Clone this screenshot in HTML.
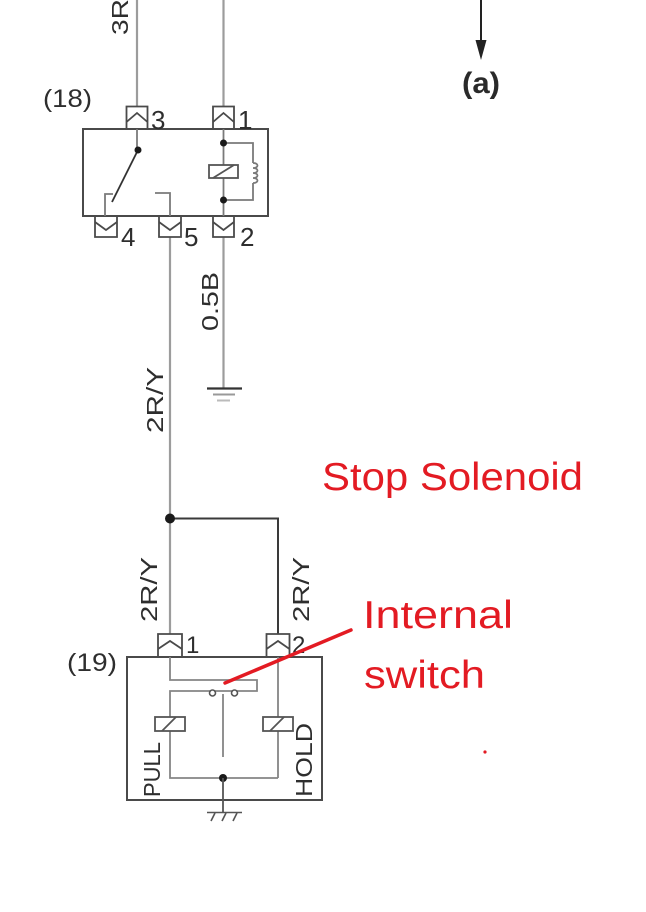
<!DOCTYPE html>
<html>
<head>
<meta charset="utf-8">
<style>
  html, body { margin: 0; padding: 0; background: #fff; }
  body { width: 646px; height: 912px; overflow: hidden; }
  svg { display: block; }
  text { font-family: "Liberation Sans", Arial, sans-serif; }
</style>
</head>
<body>
<svg width="646" height="912" viewBox="0 0 646 912" xmlns="http://www.w3.org/2000/svg">
  <rect x="0" y="0" width="646" height="912" fill="#ffffff"/>

  <!-- ===== External wires (gray) ===== -->
  <g stroke="#9c9c9c" stroke-width="2.2" fill="none">
    <path d="M137 0 V106"/>
    <path d="M223.5 0 V106"/>
    <path d="M170 237 V634"/>
    <path d="M223.5 237 V388"/>
  </g>

  <!-- ground for 0.5B -->
  <path d="M207 388.5 H242" stroke="#333" stroke-width="2.2"/>
  <path d="M213 394.5 H235" stroke="#999" stroke-width="2"/>
  <path d="M217 400.5 H230" stroke="#bbb" stroke-width="2"/>

  <!-- junction branch -->
  <path d="M170 518.5 H278 V634" stroke="#3a3a3a" stroke-width="2" fill="none"/>
  <circle cx="170" cy="518.5" r="5" fill="#1a1a1a"/>

  <!-- ===== Component (18) ===== -->
  <rect x="83" y="129" width="185" height="87" fill="none" stroke="#4a4a4a" stroke-width="2"/>

  <g stroke="#4a4a4a" stroke-width="1.8" fill="none">
    <path d="M126.5 129 V106.5 H147.5 V129"/>
    <path d="M126.5 122 L137 113 L147.5 122"/>
    <path d="M213 129 V106.5 H234 V129"/>
    <path d="M213 122 L223.5 113 L234 122"/>
    <path d="M95 216 V237 H117 V216"/>
    <path d="M95 222 L106 230 L117 222"/>
    <path d="M159 216 V237 H181 V216"/>
    <path d="M159 222 L170 230 L181 222"/>
    <path d="M213 216 V237 H234 V216"/>
    <path d="M213 222 L223.5 230 L234 222"/>
  </g>

  <g stroke="#7a7a7a" stroke-width="1.8" fill="none">
    <path d="M137 129 V150"/>
    <path d="M105 216 V194 H113"/>
    <path d="M155 193 H170 V216"/>
    <path d="M223.5 129 V216"/>
    <path d="M223.5 143 H253 V163"/>
    <path d="M253 163 c6 0 6 5 0 5 c6 0 6 5 0 5 c6 0 6 5 0 5 c6 0 6 5 0 5"/>
    <path d="M253 183 V200 H223.5"/>
  </g>
  <path d="M138 150 L112 202" stroke="#333" stroke-width="1.8"/>
  <circle cx="138" cy="150" r="3.5" fill="#1a1a1a"/>
  <circle cx="223.5" cy="143" r="3.5" fill="#1a1a1a"/>
  <circle cx="223.5" cy="200" r="3.5" fill="#1a1a1a"/>
  <rect x="209" y="165" width="29" height="13" fill="#fff" stroke="#555" stroke-width="1.8"/>
  <path d="M213 178 L234 165" stroke="#555" stroke-width="1.8"/>

  <!-- ===== Component (19) ===== -->
  <rect x="127" y="657" width="195" height="143" fill="none" stroke="#4a4a4a" stroke-width="2"/>

  <g stroke="#4a4a4a" stroke-width="1.8" fill="none">
    <path d="M158 657 V634 H182 V657"/>
    <path d="M158 649 L170 641 L182 649"/>
    <path d="M266.5 657 V634 H289.5 V657"/>
    <path d="M266.5 649 L278 641 L289.5 649"/>
  </g>

  <g stroke="#858585" stroke-width="1.8" fill="none">
    <path d="M170 657 V680 H257 V691 H170 V717"/>
    <path d="M170 731 V778 H278"/>
    <path d="M278 657 V717"/>
    <path d="M278 731 V778"/>
    <path d="M223 694 V757"/>
  </g>
  <circle cx="212.5" cy="693" r="3" fill="#fff" stroke="#555" stroke-width="1.6"/>
  <circle cx="234.5" cy="693" r="3" fill="#fff" stroke="#555" stroke-width="1.6"/>

  <rect x="155" y="717" width="30" height="14" fill="#fff" stroke="#555" stroke-width="1.8"/>
  <path d="M162 731 L176 717" stroke="#555" stroke-width="1.8"/>
  <rect x="263" y="717" width="30" height="14" fill="#fff" stroke="#555" stroke-width="1.8"/>
  <path d="M270 731 L284 717" stroke="#555" stroke-width="1.8"/>

  <circle cx="223" cy="778" r="4" fill="#1a1a1a"/>
  <path d="M223 778 V812" stroke="#555" stroke-width="1.8"/>
  <path d="M207 812.5 H242" stroke="#555" stroke-width="1.6"/>
  <g stroke="#555" stroke-width="1.6">
    <path d="M215 813 L211 821"/>
    <path d="M226 813 L222 821"/>
    <path d="M237 813 L233 821"/>
  </g>

  <!-- ===== Arrow (a) ===== -->
  <path d="M481 0 V42" stroke="#222" stroke-width="2"/>
  <path d="M475.5 40 L486.5 40 L481 60 Z" fill="#222"/>
  <text x="462" y="93" font-size="30" font-weight="bold" fill="#2a2a2a" textLength="38" lengthAdjust="spacingAndGlyphs">(a)</text>

  <!-- ===== Labels ===== -->
  <g fill="#2e2e2e">
    <text x="43" y="107" font-size="25" textLength="49" lengthAdjust="spacingAndGlyphs">(18)</text>
    <text x="67" y="671" font-size="25" textLength="50" lengthAdjust="spacingAndGlyphs">(19)</text>

    <text x="151" y="129" font-size="26">3</text>
    <text x="238" y="129" font-size="26">1</text>
    <text x="121" y="246" font-size="26">4</text>
    <text x="184" y="246" font-size="26">5</text>
    <text x="240" y="246" font-size="26">2</text>

    <text x="186" y="653" font-size="24">1</text>
    <text x="292" y="653" font-size="24">2</text>

    <text transform="translate(128,35) rotate(-90)" font-size="23" textLength="36" lengthAdjust="spacingAndGlyphs">3R</text>
    <text transform="translate(218,331) rotate(-90)" font-size="23" textLength="59" lengthAdjust="spacingAndGlyphs">0.5B</text>
    <text transform="translate(163,433) rotate(-90)" font-size="23" textLength="66" lengthAdjust="spacingAndGlyphs">2R/Y</text>
    <text transform="translate(157,622) rotate(-90)" font-size="23" textLength="65" lengthAdjust="spacingAndGlyphs">2R/Y</text>
    <text transform="translate(309,622) rotate(-90)" font-size="23" textLength="65" lengthAdjust="spacingAndGlyphs">2R/Y</text>
    <text transform="translate(160,797) rotate(-90)" font-size="23" textLength="55" lengthAdjust="spacingAndGlyphs">PULL</text>
    <text transform="translate(312,797) rotate(-90)" font-size="23" textLength="74" lengthAdjust="spacingAndGlyphs">HOLD</text>
  </g>

  <!-- ===== Red annotations ===== -->
  <path d="M225 683 L351 630" stroke="#e31b23" stroke-width="3.5" stroke-linecap="round"/>
  <g fill="#e31b23">
    <text x="322" y="490" font-size="39" textLength="261" lengthAdjust="spacingAndGlyphs">Stop Solenoid</text>
    <text x="363" y="628" font-size="39" textLength="150" lengthAdjust="spacingAndGlyphs">Internal</text>
    <text x="364" y="688" font-size="39" textLength="121" lengthAdjust="spacingAndGlyphs">switch</text>
  </g>
  <circle cx="485" cy="752" r="1.6" fill="#e31b23"/>
</svg>
</body>
</html>
